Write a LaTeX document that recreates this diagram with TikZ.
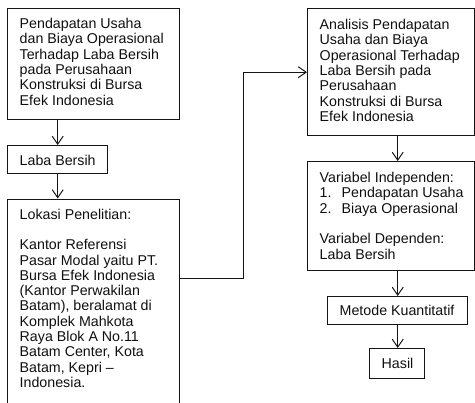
\documentclass[tikz,border=0pt]{standalone}
\usepackage{fontspec}
\setmainfont{Liberation Sans}
\usetikzlibrary{arrows.meta}

\definecolor{flowLine}{RGB}{20,20,20}
\definecolor{flowText}{RGB}{15,15,15}

% box body: height, width, first baseline, lines
\newcommand{\flowbody}[4]{\parbox[c][#1][t]{#2}{%
  \raggedright\leftskip=.24cm\rule{0pt}{#3}#4}}

\begin{document}
\begin{tikzpicture}[x=1cm,y=1cm,
      frame/.style={draw=flowLine, line width=.8pt, anchor=north west,
        inner sep=0pt, text=flowText,
        font=\fontsize{8.1}{8.7}\selectfont},
      link/.style={draw=flowLine, line width=.55pt,
        -{Straight Barb[length=.16cm, width=.22cm]}}]
      \useasboundingbox (0,0) rectangle (9.5,8.04);
      \clip (0,0) rectangle (9.5,8.04);

      % left column
      \node[frame] (pendapatan) at (.14,7.88) {\flowbody{2.22cm}{3.44cm}{.40cm}{%
        Pendapatan Usaha\\dan Biaya Operasional\\
        Terhadap Laba Bersih\\pada Perusahaan\\Konstruksi di Bursa\\Efek Indonesia}};
      \node[frame] (laba) at (.14,5.14) {\flowbody{.56cm}{2.0cm}{.39cm}{%
        Laba Bersih}};
      \node[frame] (lokasi) at (.14,4.07) {\flowbody{4.4cm}{3.44cm}{.40cm}{%
        Lokasi Penelitian:\\[\baselineskip]
        Kantor Referensi\\Pasar Modal yaitu PT.\\Bursa Efek Indonesia\\
        (Kantor Perwakilan\\Batam), beralamat di\\Komplek Mahkota\\
        Raya Blok A No.11\\Batam Center, Kota\\Batam, Kepri --\\Indonesia.}};

      % right column
      \node[frame] (analisis) at (6.14,7.88) {\flowbody{2.54cm}{3.34cm}{.42cm}{%
        Analisis Pendapatan\\Usaha dan Biaya\\
        Operasional Terhadap\\Laba Bersih pada\\Perusahaan\\
        Konstruksi di Bursa\\Efek Indonesia}};
      \node[frame] (variabel) at (6.14,4.82) {\flowbody{2.18cm}{3.34cm}{.42cm}{%
        Variabel Independen:\\
        \makebox[.44cm][l]{1.}Pendapatan Usaha\\
        \makebox[.44cm][l]{2.}Biaya Operasional\\[\baselineskip]
        Variabel Dependen:\\Laba Bersih}};
      \node[frame] (metode) at (6.54,2.12) {\flowbody{.56cm}{2.8cm}{.38cm}{%
        Metode Kuantitatif}};
      \node[frame] (hasil) at (7.38,1.08) {\flowbody{.60cm}{1.1cm}{.39cm}{%
        Hasil}};

      \draw[link] (laba.north |- pendapatan.south) -- (laba.north);
      \draw[link] (laba.south) -- (laba.south |- lokasi.north);
      \draw[link] ([yshift=-1.6cm]lokasi.north east) -- ++(1.26,0)
        |- (analisis.west);
      \draw[link] (analisis.south -| metode.north)
        -- (variabel.north -| metode.north);
      \draw[link] (variabel.south -| metode.north) -- (metode.north);
      \draw[link] (metode.south) -- (metode.south |- hasil.north);
    \end{tikzpicture}
\end{document}
